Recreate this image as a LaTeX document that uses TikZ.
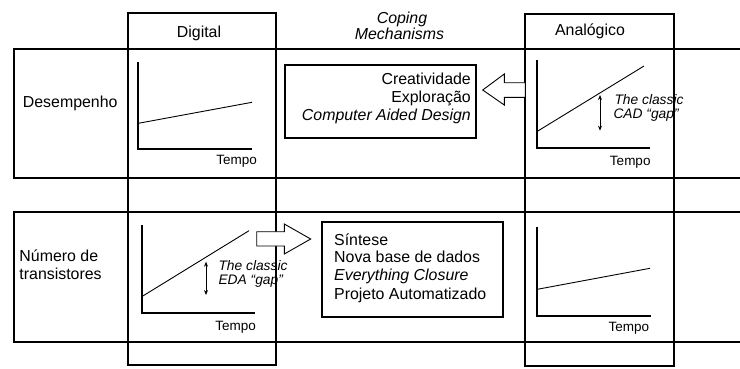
\documentclass[tikz,border=0pt]{standalone}
\usepackage{fontspec}
\setmainfont{Liberation Sans}
\usetikzlibrary{arrows.meta}
\tikzset{
  frame/.style={line width=1.7pt, draw=black},
  axis/.style={line width=1.7pt, draw=black},
  trend/.style={line width=0.9pt, draw=black},
  hollow/.style={line width=0.9pt, draw=black, fill=white},
  gaparrow/.style={line width=0.9pt, {Stealth[length=5pt,width=4pt]}-{Stealth[length=5pt,width=4pt]}},
  txt/.style={inner sep=0pt, font=\fontsize{15.9}{18}\selectfont},
  itxt/.style={inner sep=0pt, font=\fontsize{15.9}{18}\selectfont\itshape},
  small/.style={inner sep=0pt, font=\fontsize{13.5}{15}\selectfont},
  note/.style={inner sep=0pt, font=\fontsize{13.8}{15}\selectfont\itshape},
  boxnode/.style={frame, inner sep=0pt, outer sep=0pt},
}
\begin{document}
\begin{tikzpicture}[x=1pt,y=-1pt]
\useasboundingbox (0,0) rectangle (740,368);
% rows (open on the right)
\draw[frame] (740,49.3) -- (14,49.3) -- (14,178.3) -- (740,178.3);
\draw[frame] (740,211.7) -- (14,211.7) -- (14,341.7) -- (740,341.7);
% columns
\draw[frame] (127.7,13.3) rectangle (276,365);
\draw[frame] (525.3,14) rectangle (674,366);
% headers
\node[txt, anchor=base] (hdig) at (199,37.3) {Digital};
\node[txt, anchor=base] (hana) at (590,35) {Analógico};
\node[itxt, anchor=base] (hcop1) at (402,23.3) {Coping};
\node[itxt, anchor=base] (hcop2) at (399.5,39.3) {Mechanisms};
% row labels
\node[txt, anchor=base west] (rdes) at (22.7,107.3) {Desempenho};
\node[txt, anchor=base west] (rnum1) at (19.3,261.3) {Número de};
\node[txt, anchor=base west] (rnum2) at (19.3,279.3) {transistores};
% graph: digital / desempenho
\coordinate (g1o) at (138.3,149);
\draw[axis] (138.3,62) -- (g1o) -- (252,149);
\coordinate (g1a) at (138.3,123.3);
\coordinate (g1b) at (252,102.3);
\draw[trend] (g1a) -- (g1b);
\node[small, anchor=base east] (t1) at (257,164.3) {Tempo};
% graph: analog / desempenho
\coordinate (g2o) at (536.7,148);
\draw[axis] (536.7,60) -- (g2o) -- (650,148);
\coordinate (g2a) at (536.7,131.7);
\coordinate (g2b) at (644,66);
\draw[trend] (g2a) -- (g2b);
\coordinate (c2t) at (600,95);
\coordinate (c2b) at (600,130.7);
\draw[gaparrow] (c2t) -- (c2b);
\node[note, anchor=base west] (n2a) at (614.3,104.3) {The classic};
\node[note, anchor=base west] (n2b) at (613.3,118.3) {CAD “gap”};
\node[small, anchor=base east] (t2) at (650.7,165.7) {Tempo};
% graph: digital / transistores
\coordinate (g3o) at (141.7,313.3);
\draw[axis] (141.7,225) -- (g3o) -- (255,313.3);
\coordinate (g3a) at (141.7,296.7);
\coordinate (g3b) at (249,230.7);
\draw[trend] (g3a) -- (g3b);
\coordinate (c3t) at (206,261.7);
\coordinate (c3b) at (206,295);
\draw[gaparrow] (c3t) -- (c3b);
\node[note, anchor=base west] (n3a) at (218.3,270.7) {The classic};
\node[note, anchor=base west] (n3b) at (218.3,284) {EDA “gap”};
\node[small, anchor=base east] (t3) at (256,330) {Tempo};
% graph: analog / transistores
\coordinate (g4o) at (537.3,315.7);
\draw[axis] (537.3,227) -- (g4o) -- (650.7,315.7);
\coordinate (g4a) at (537.3,289.3);
\coordinate (g4b) at (650,268.3);
\draw[trend] (g4a) -- (g4b);
\node[small, anchor=base east] (t4) at (649.3,331.7) {Tempo};
% coping box (top)
\node[boxnode, minimum width=191pt, minimum height=73pt] (cbox) at (380.5,101.5) {};
\node[txt, anchor=base east] (cl1) at (471,84.5) {Creatividade};
\node[txt, anchor=base east] (cl2) at (471,102) {Exploração};
\node[itxt, anchor=base east] (cl3) at (471,120) {Computer Aided Design};
% left arrow
\draw[hollow] (482.7,90) -- (504.3,74) -- (504.3,82.7) -- (525.3,82.7) -- (525.3,97.3) -- (504.3,97.3) -- (504.3,105) -- cycle;
% right arrow
\draw[hollow] (256.7,231.7) -- (284.3,231.7) -- (284.3,224) -- (310.7,239) -- (284.3,254) -- (284.3,246) -- (256.7,246) -- cycle;
% bottom box
\node[boxnode, minimum width=180.4pt, minimum height=95.6pt] (bbox) at (412.5,269.5) {};
\node[txt, anchor=base west] (bl1) at (334,245) {Síntese};
\node[txt, anchor=base west] (bl2) at (334,262.7) {Nova base de dados};
\node[itxt, anchor=base west] (bl3) at (334,280.7) {Everything Closure};
\node[txt, anchor=base west] (bl4) at (334,299.3) {Projeto Automatizado};
\end{tikzpicture}
\end{document}
